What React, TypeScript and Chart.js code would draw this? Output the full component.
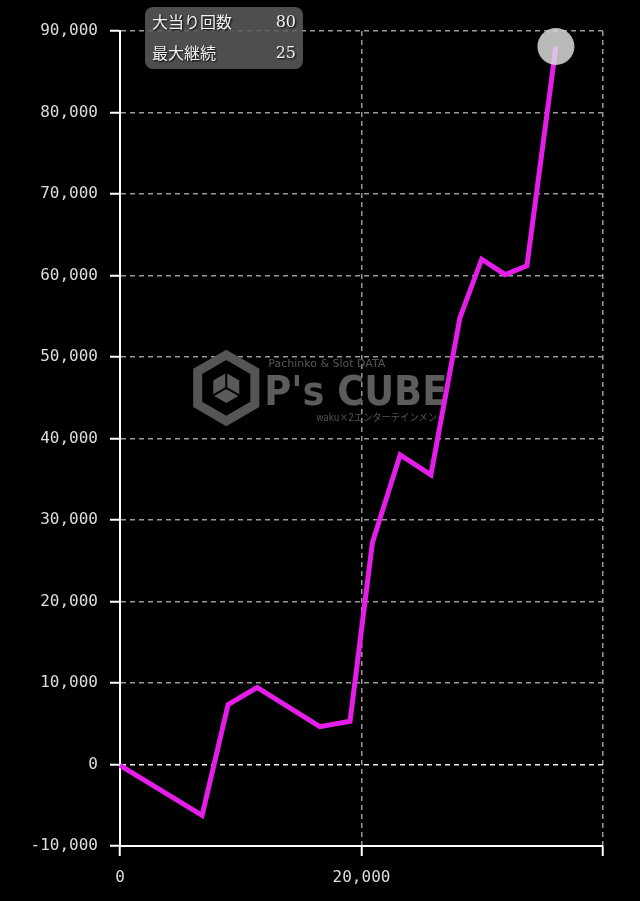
import React, { useEffect, useRef } from 'react';
import { Chart, registerables } from 'chart.js';

Chart.register(...registerables);

// ---- data ----
const xValues = [0, 6800, 8950, 11350, 16550, 19050, 20900, 23200, 25750, 28150, 29950, 31900, 33700, 36100];
const yValues = [-100, -6250, 7350, 9450, 4650, 5300, 27200, 38000, 35550, 54800, 62000, 60100, 61200, 88100];
const xTickValues = [0, 20000, 40000];
const xTickLabels = ['0', '20,000', ''];
const yMin = -10000;
const yMax = 90000;
const yStep = 10000;
const statLabels = ['大当り回数', '最大継続'];
const statValues = ['80', '25'];
const wmTop = 'Pachinko & Slot DATA';
const wmMain = "P's CUBE";
const wmSub = 'waku×2エンターテインメント';

const fmt = (v: number) => Math.round(v).toLocaleString('en-US');

const bgPlugin = {
  id: 'bg',
  beforeDraw(chart: any) {
    const { ctx, width, height } = chart;
    ctx.save();
    ctx.fillStyle = '#000';
    ctx.fillRect(0, 0, width, height);
    ctx.restore();
  },
};

const watermarkPlugin = {
  id: 'wm',
  beforeDatasetsDraw(chart: any) {
    const { ctx, chartArea } = chart;
    const cx = chartArea.left + (chartArea.right - chartArea.left) * 0.22;
    const cy = chartArea.top + (chartArea.bottom - chartArea.top) * 0.438;
    ctx.save();
    const col = '#555';
    // hexagon outline
    const R = 33;
    ctx.strokeStyle = col;
    ctx.lineWidth = 9;
    ctx.lineJoin = 'miter';
    ctx.beginPath();
    for (let i = 0; i < 6; i++) {
      const a = Math.PI / 6 + (i * Math.PI) / 3;
      const px = cx + R * Math.cos(a);
      const py = cy + R * Math.sin(a);
      if (i === 0) ctx.moveTo(px, py);
      else ctx.lineTo(px, py);
    }
    ctx.closePath();
    ctx.stroke();
    // inner cube
    const r = 15;
    ctx.fillStyle = '#5a5a5a';
    const pts = [] as number[][];
    for (let i = 0; i < 6; i++) {
      const a = -Math.PI / 2 + (i * Math.PI) / 3;
      pts.push([cx + r * Math.cos(a), cy + r * Math.sin(a)]);
    }
    ctx.beginPath();
    pts.forEach((p, i) => (i === 0 ? ctx.moveTo(p[0], p[1]) : ctx.lineTo(p[0], p[1])));
    ctx.closePath();
    ctx.fill();
    ctx.strokeStyle = '#000';
    ctx.lineWidth = 2;
    ctx.beginPath();
    ctx.moveTo(cx, cy);
    ctx.lineTo(pts[0][0], pts[0][1]);
    ctx.moveTo(cx, cy);
    ctx.lineTo(pts[2][0], pts[2][1]);
    ctx.moveTo(cx, cy);
    ctx.lineTo(pts[4][0], pts[4][1]);
    ctx.stroke();
    // texts
    ctx.fillStyle = col;
    ctx.textBaseline = 'alphabetic';
    ctx.textAlign = 'left';
    ctx.font = '11px "DejaVu Sans"';
    ctx.fillText(wmTop, cx + 42, cy - 21);
    ctx.font = 'bold 40px "DejaVu Sans"';
    ctx.fillStyle = '#5c5c5c';
    ctx.fillText(wmMain, cx + 38, cy + 17, 183);
    ctx.fillStyle = col;
    ctx.font = '10px "Noto Sans CJK JP"';
    ctx.fillText(wmSub, cx + 90, cy + 33, 130);
    ctx.restore();
  },
};

export default function App() {
  const ref = useRef<HTMLCanvasElement>(null);

  useEffect(() => {
    document.body.style.margin = '0';
    document.body.style.background = '#000';
    const canvas = ref.current!;
    const last = xValues.length - 1;
    const chart = new Chart(canvas, {
      type: 'line',
      data: {
        datasets: [
          {
            data: xValues.map((x, i) => ({ x, y: yValues[i] })),
            borderColor: '#e41ee8',
            borderWidth: 5,
            borderJoinStyle: 'miter',
            tension: 0,
            fill: false,
            pointRadius: xValues.map((_, i) => (i === last ? 18.5 : 0)),
            pointHoverRadius: xValues.map((_, i) => (i === last ? 18.5 : 0)),
            pointBackgroundColor: 'rgba(226,226,226,0.82)',
            pointBorderWidth: 0,
            clip: false as any,
          },
        ],
      },
      options: {
        responsive: false,
        animation: false,
        events: [],
        layout: { padding: { top: 31, right: 37, left: 0, bottom: 0 } },
        plugins: { legend: { display: false }, tooltip: { enabled: false } },
        scales: {
          x: {
            type: 'linear',
            min: 0,
            max: 40000,
            afterFit: (s: any) => {
              s.height = 55;
            },
            afterBuildTicks: (s: any) => {
              s.ticks = xTickValues.map((v) => ({ value: v }));
            },
            ticks: {
              color: '#ddd',
              font: { family: '"DejaVu Sans Mono"', size: 16 },
              padding: 12,
              maxRotation: 0,
              autoSkip: false,
              callback: (v: any) => {
                const i = xTickValues.indexOf(Number(v));
                return i >= 0 ? xTickLabels[i] : '';
              },
            },
            grid: {
              color: '#999',
              lineWidth: 1.5,
              tickColor: '#fff',
              tickLength: 10,
              tickWidth: 2,
            },
            border: { display: true, color: '#fff', width: 2, dash: [5, 4] },
          },
          y: {
            type: 'linear',
            min: yMin,
            max: yMax,
            afterFit: (s: any) => {
              s.width = 120;
            },
            ticks: {
              stepSize: yStep,
              color: '#ddd',
              font: { family: '"DejaVu Sans Mono"', size: 16 },
              padding: 12,
              autoSkip: false,
              callback: (v: any) => fmt(Number(v)),
            },
            grid: {
              color: (c: any) => (c.tick && c.tick.value === 0 ? '#eee' : '#999'),
              lineWidth: 1.5,
              tickColor: '#fff',
              tickLength: 10,
              tickWidth: 2,
            },
            border: { display: true, color: '#fff', width: 2, dash: [5, 4] },
          },
        },
      },
      plugins: [bgPlugin, watermarkPlugin],
    } as any);
    return () => chart.destroy();
  }, []);

  const rowStyle: React.CSSProperties = {
    display: 'flex',
    justifyContent: 'space-between',
    alignItems: 'center',
    height: 33,
  };

  return (
    <div style={{ position: 'relative', width: 640, height: 901, background: '#000', overflow: 'hidden' }}>
      <canvas ref={ref} width={640} height={901} style={{ display: 'block' }} />
      <div
        style={{
          position: 'absolute',
          left: 145,
          top: 7,
          width: 158,
          height: 62,
          borderRadius: 8,
          background: 'rgba(92,92,92,0.85)',
          boxSizing: 'border-box',
          padding: '0 7px',
          color: '#f2f2f2',
          fontFamily: '"DejaVu Serif", "Noto Sans CJK JP", serif',
          fontSize: 16,
          textShadow: '1px 1px 2px #000',
        }}
      >
        {statLabels.map((l, i) => (
          <div key={l} style={{ ...rowStyle, height: i === 0 ? 28 : 34 }}>
            <span style={{ fontFamily: '"Noto Sans CJK JP"' }}>{l}</span>
            <span>{statValues[i]}</span>
          </div>
        ))}
      </div>
    </div>
  );
}
